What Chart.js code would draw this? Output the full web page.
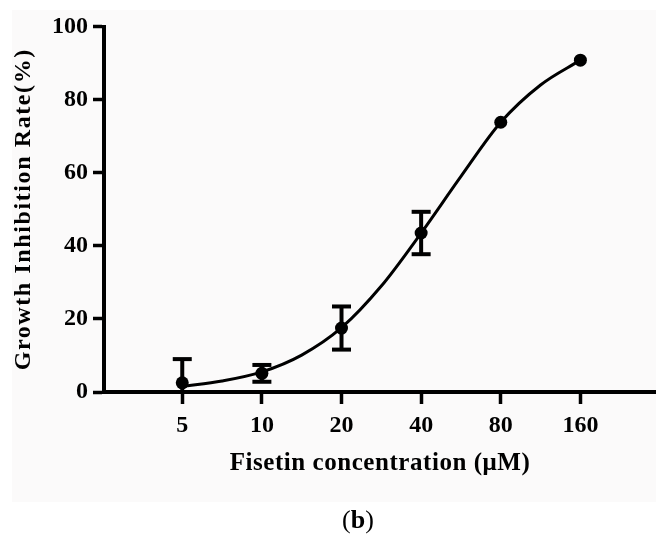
<!DOCTYPE html>
<html><head><meta charset="utf-8">
<script src="https://cdn.jsdelivr.net/npm/chart.js@4.4.0/dist/chart.umd.min.js"></script>
<style>
html,body{margin:0;padding:0;background:#fff;}
#wrap{position:relative;width:656px;height:536px;overflow:hidden;}
#bg{position:absolute;left:12px;top:10px;width:644px;height:492px;background:#fbfafa;}
canvas{position:absolute;left:0;top:0;}
#cap{position:absolute;left:342px;top:507px;font-family:'Liberation Serif',serif;font-size:26px;line-height:26px;color:#000;white-space:nowrap;}
</style></head><body>
<div id="wrap"><div id="bg"></div><canvas id="c" width="656" height="536"></canvas><div id="cap">(<b>b</b>)</div></div>
<script>
const concentrations = [5, 10, 20, 40, 80, 160];
const inhibitionMean = [2.5, 5.1, 17.5, 43.5, 73.8, 90.8];
const inhibitionErr = [6.5, 2.3, 5.9, 5.8, 0, 0];
const fitConcentrations = [5, 7.07, 10, 14.14, 20, 28.28, 40, 56.57, 80, 113.1, 160];
const fitInhibition = [1.5, 3.0, 5.5, 10.1, 17.6, 29.0, 43.5, 59.0, 73.8, 84.0, 90.8];
const xTickValues = [5, 10, 20, 40, 80, 160];
const yTickValues = [0, 20, 40, 60, 80, 100];

const serifBold = (size) => ({family: "'Liberation Serif', serif", size: size, weight: 'bold'});

function spacedTitle(scale, spacing) {
  if (scale._spacedTitle) return;
  const orig = scale.drawTitle;
  scale.drawTitle = function () {
    const ctx = this.ctx;
    ctx.save();
    ctx.letterSpacing = spacing;
    orig.call(this);
    ctx.restore();
  };
  scale._spacedTitle = true;
}

const titleSpacing = {
  id: 'titleSpacing',
  beforeDraw(chart) {
    spacedTitle(chart.scales.x, '0.55px');
    spacedTitle(chart.scales.y, '1.6px');
  }
};

const errorBars = {
  id: 'errorBars',
  afterDatasetsDraw(chart) {
    const {ctx, chartArea, scales: {x, y}} = chart;
    ctx.save();
    ctx.strokeStyle = '#000';
    ctx.lineWidth = 4;
    ctx.lineCap = 'butt';
    concentrations.forEach((c, i) => {
      const e = inhibitionErr[i];
      if (!e) return;
      const px = x.getPixelForValue(c);
      const top = y.getPixelForValue(inhibitionMean[i] + e);
      const botRaw = y.getPixelForValue(inhibitionMean[i] - e);
      const bot = Math.min(botRaw, chartArea.bottom);
      const half = 9.5;
      ctx.beginPath(); ctx.moveTo(px, top); ctx.lineTo(px, bot); ctx.stroke();
      ctx.beginPath(); ctx.moveTo(px - half, top); ctx.lineTo(px + half, top); ctx.stroke();
      if (botRaw <= chartArea.bottom) {
        ctx.beginPath(); ctx.moveTo(px - half, bot); ctx.lineTo(px + half, bot); ctx.stroke();
      }
    });
    ctx.restore();
  }
};

new Chart(document.getElementById('c'), {
  type: 'scatter',
  data: {
    datasets: [
      {
        type: 'line',
        data: fitConcentrations.map((c, i) => ({x: c, y: fitInhibition[i]})),
        borderColor: '#000', borderWidth: 3, pointRadius: 0,
        cubicInterpolationMode: 'monotone', fill: false, order: 2
      },
      {
        type: 'scatter',
        data: concentrations.map((c, i) => ({x: c, y: inhibitionMean[i]})),
        backgroundColor: '#000', borderColor: '#000', borderWidth: 0,
        pointRadius: 6.5, order: 1
      }
    ]
  },
  options: {
    responsive: false, animation: false, devicePixelRatio: 1,
    layout: {autoPadding: false, padding: {top: 26.5, right: 0, left: 0, bottom: 0}},
    plugins: {legend: {display: false}, tooltip: {enabled: false}},
    scales: {
      x: {
        type: 'logarithmic', min: 2.53, max: 309,
        afterBuildTicks: s => { s.ticks = xTickValues.map(v => ({value: v})); },
        afterFit: s => { s.height = 144; s.paddingRight = 0; s.paddingLeft = 0; },
        border: {display: true, color: '#000', width: 4},
        grid: {display: true, drawOnChartArea: false, tickLength: 12, tickWidth: 3.5, tickColor: '#000'},
        ticks: {color: '#000', font: serifBold(24), padding: 7, autoSkip: false, maxRotation: 0, callback: v => String(v)},
        title: {display: true, text: 'Fisetin concentration (μM)', color: '#000', font: serifBold(25), padding: {top: 0, bottom: 57.7}}
      },
      y: {
        min: 0, max: 100,
        afterBuildTicks: s => { s.ticks = yTickValues.map(v => ({value: v})); },
        afterFit: s => { s.width = 104; },
        border: {display: true, color: '#000', width: 4},
        grid: {display: true, drawOnChartArea: false, tickLength: 11, tickWidth: 3.5, tickColor: '#000'},
        ticks: {color: '#000', font: serifBold(24), padding: 5, callback: v => String(v)},
        title: {display: true, text: 'Growth Inhibition Rate(%)', color: '#000', font: serifBold(24), padding: {top: 9.5, bottom: 0}}
      }
    }
  },
  plugins: [titleSpacing, errorBars]
});
</script>
</body></html>
